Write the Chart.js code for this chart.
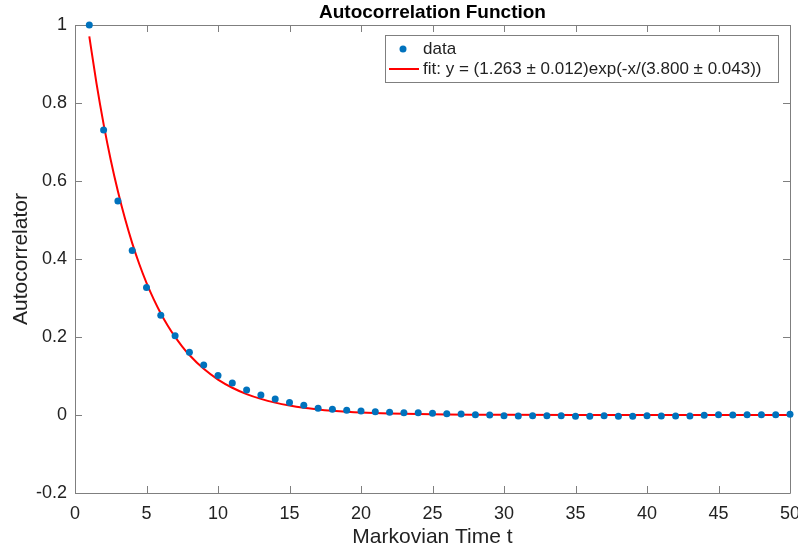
<!DOCTYPE html>
<html>
<head>
<meta charset="utf-8">
<script src="https://cdn.jsdelivr.net/npm/chart.js@4.4.0/dist/chart.umd.min.js"></script>
<style>
  html, body { margin: 0; padding: 0; background: #fff; }
  #wrap { width: 798px; height: 552px; }
</style>
</head>
<body>
<div id="wrap"><canvas id="acfChart" width="798" height="552"></canvas></div>
<script>
// Markovian time steps
const tValues = [1, 2, 3, 4, 5, 6, 7, 8, 9, 10, 11, 12, 13, 14, 15, 16, 17, 18, 19, 20,
    21, 22, 23, 24, 25, 26, 27, 28, 29, 30, 31, 32, 33, 34, 35, 36, 37, 38, 39, 40,
    41, 42, 43, 44, 45, 46, 47, 48, 49, 50];

// autocorrelation
const acfValues = [1.000, 0.731, 0.549, 0.422, 0.327, 0.256, 0.203, 0.161, 0.128, 0.101,
    0.082, 0.064, 0.051, 0.041, 0.032, 0.025, 0.017, 0.015, 0.012, 0.010,
    0.0085, 0.0068, 0.006, 0.006, 0.0043, 0.0034, 0.0026, 0.0009, 0.0, -0.0017,
    -0.0026, -0.0017, -0.0017, -0.0017, -0.0034, -0.0034, -0.0017, -0.0034, -0.0034, -0.0017,
    -0.0026, -0.0026, -0.0026, -0.0009, 0.0009, 0.0, 0.0009, 0.0009, 0.0009, 0.0017];

// fitted curve samples
const fitX = [1, 1.5, 2, 2.5, 3, 3.5, 4, 4.5, 5, 5.5, 6, 6.5, 7, 7.5, 8, 9, 10, 11, 12, 13,
    14, 15, 16, 17, 18, 19, 20, 22, 24, 26, 28, 30, 35, 40, 50];
const fitY = [0.9708, 0.851, 0.746, 0.654, 0.5735, 0.503, 0.4408, 0.3865, 0.3388, 0.2970,
    0.2604, 0.2283, 0.2002, 0.1755, 0.1539, 0.1183, 0.0909, 0.0699, 0.0537, 0.0413,
    0.0317, 0.0244, 0.0187, 0.0144, 0.0111, 0.0085, 0.0065, 0.0039, 0.0023, 0.0013,
    0.0008, 0.0005, 0.0001, 0.0, 0.0];

const xTickLabels = ['0', '5', '10', '15', '20', '25', '30', '35', '40', '45', '50'];
const yTickLabels = ['-0.2', '0', '0.2', '0.4', '0.6', '0.8', '1'];

const seriesNames = ['data', 'fit: y = (1.263 \u00b1 0.012)exp(-x/(3.800 \u00b1 0.043))'];
const dataColor = '#0072BD';
const fitColor = '#FF0000';
const textColor = '#222222';
const axisColor = '#7f7f7f';
const fontFamily = '"Liberation Sans", Arial, Helvetica, sans-serif';

// box around the axes, with MATLAB style inward ticks
const axesBox = {
    id: 'axesBox',
    beforeDatasetsDraw(chart) {
        const { ctx, chartArea: a, scales } = chart;
        const tl = 7;
        ctx.save();
        ctx.strokeStyle = axisColor;
        ctx.lineWidth = 1;
        ctx.beginPath();
        ctx.rect(Math.round(a.left) + 0.5, Math.round(a.top) + 0.5,
            Math.round(a.right - a.left), Math.round(a.bottom - a.top));
        scales.x.ticks.forEach(t => {
            const px = Math.round(scales.x.getPixelForValue(t.value)) + 0.5;
            ctx.moveTo(px, a.bottom); ctx.lineTo(px, a.bottom - tl);
            ctx.moveTo(px, a.top); ctx.lineTo(px, a.top + tl);
        });
        scales.y.ticks.forEach(t => {
            const py = Math.round(scales.y.getPixelForValue(t.value)) + 0.5;
            ctx.moveTo(a.left, py); ctx.lineTo(a.left + tl, py);
            ctx.moveTo(a.right, py); ctx.lineTo(a.right - tl, py);
        });
        ctx.stroke();
        ctx.restore();
    }
};

// legend box in the upper right of the axes
const boxLegend = {
    id: 'boxLegend',
    afterDraw(chart) {
        const { ctx } = chart;
        const x0 = 385, y0 = 35, w = 393, h = 47;
        ctx.save();
        ctx.fillStyle = '#fff';
        ctx.fillRect(x0, y0, w, h);
        ctx.strokeStyle = axisColor;
        ctx.lineWidth = 1;
        ctx.strokeRect(x0 + 0.5, y0 + 0.5, w, h);

        ctx.fillStyle = dataColor;
        ctx.beginPath();
        ctx.arc(403, 49, 3.5, 0, Math.PI * 2);
        ctx.fill();

        ctx.strokeStyle = fitColor;
        ctx.lineWidth = 2;
        ctx.beginPath();
        ctx.moveTo(389, 69); ctx.lineTo(419, 69);
        ctx.stroke();

        ctx.fillStyle = textColor;
        ctx.font = '17px ' + fontFamily;
        ctx.textBaseline = 'middle';
        ctx.fillText(seriesNames[0], 423, 49);
        ctx.fillText(seriesNames[1], 423, 69);
        ctx.restore();
    }
};

const ctx = document.getElementById('acfChart').getContext('2d');
const acfChart = new Chart(ctx, {
    type: 'scatter',
    data: {
        datasets: [{
            label: seriesNames[0],
            data: tValues.map((t, i) => ({ x: t, y: acfValues[i] })),
            backgroundColor: dataColor,
            borderColor: dataColor,
            pointRadius: 3.5,
            pointBorderWidth: 0,
            showLine: false,
            clip: false,
            order: 1
        }, {
            label: seriesNames[1],
            data: fitX.map((x, i) => ({ x: x, y: fitY[i] })),
            borderColor: fitColor,
            borderWidth: 2,
            pointRadius: 0,
            showLine: true,
            tension: 0.4,
            cubicInterpolationMode: 'monotone',
            clip: false,
            order: 2
        }]
    },
    options: {
        responsive: false,
        animation: false,
        layout: { padding: { top: 0, right: 8, left: 0, bottom: 0 } },
        plugins: {
            legend: { display: false },
            tooltip: { enabled: false },
            title: {
                display: true,
                text: 'Autocorrelation Function',
                fullSize: false,
                color: '#000',
                font: { family: fontFamily, size: 19, weight: 'bold' },
                padding: { top: 1, bottom: 1.2 }
            }
        },
        scales: {
            x: {
                type: 'linear',
                min: 0,
                max: 50,
                grid: { display: false },
                border: { display: false },
                ticks: {
                    stepSize: 5,
                    padding: 2,
                    maxRotation: 0,
                    color: textColor,
                    font: { family: fontFamily, size: 18 },
                    callback: (v, i) => xTickLabels[i]
                },
                title: {
                    display: true,
                    text: 'Markovian Time t',
                    color: textColor,
                    font: { family: fontFamily, size: 21 },
                    padding: { top: 0, bottom: 2.4 }
                },
                afterFit(scale) {
                    scale.height = 59;
                    scale.paddingLeft = 0;
                    scale.paddingRight = 0;
                }
            },
            y: {
                type: 'linear',
                min: -0.2,
                max: 1,
                grid: { display: false },
                border: { display: false },
                ticks: {
                    stepSize: 0.2,
                    padding: 0,
                    color: textColor,
                    font: { family: fontFamily, size: 18 },
                    callback: (v, i) => yTickLabels[i]
                },
                title: {
                    display: true,
                    text: 'Autocorrelator',
                    color: textColor,
                    font: { family: fontFamily, size: 21 },
                    padding: { top: 8.4, bottom: 0 }
                },
                afterFit(scale) {
                    scale.width = 75;
                    scale.paddingTop = 0;
                    scale.paddingBottom = 0;
                }
            }
        }
    },
    plugins: [axesBox, boxLegend]
});
</script>
</body>
</html>
